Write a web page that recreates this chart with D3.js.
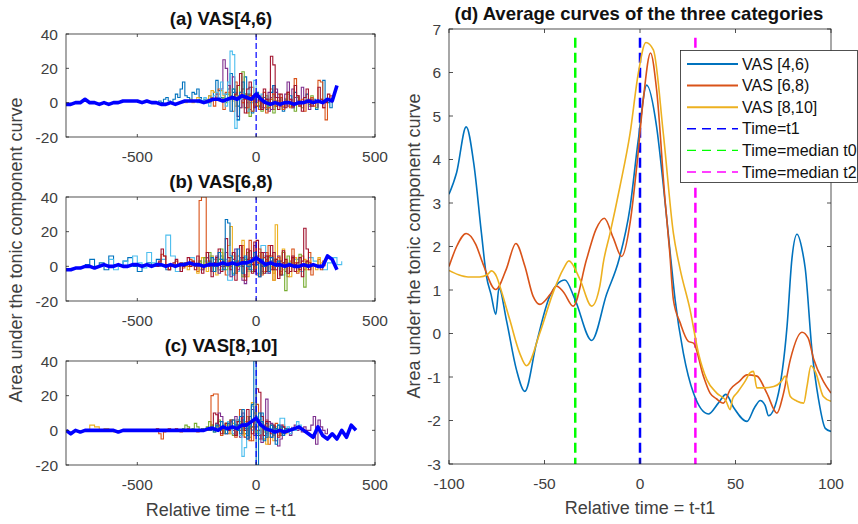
<!DOCTYPE html>
<html>
<head>
<meta charset="utf-8">
<script src="https://cdn.jsdelivr.net/npm/d3@7"></script>
<style>
  body { margin: 0; background: #fff; }
  svg { font-family: "Liberation Sans", Arial, sans-serif; }
</style>
</head>
<body>
<svg id="chart" width="858" height="524"></svg>
<script>
// MATLAB default colour order
const palette = ["#0072BD", "#D95319", "#EDB120", "#7E2F8E", "#77AC30", "#4DBEEE", "#A2142F"];

// ---- left panels: individual traces (start time, step, values) and mean curve ----
const titlesLeft = ["(a) VAS[4,6)", "(b) VAS[6,8)", "(c) VAS[8,10]"];
const xTicksLeft = [-500, 0, 500];
const yTicksLeft = [-20, 0, 20, 40];

const tracesA = [
  { c: 0, start: -420, step: 10, v: [0,1,0,2,3,1,0,2,5,3,8,12,4,3,2,6,5,8,3,1,2,0,4,2,6,13,7,3,2,5,8,17,6,3,-2,4,8,15,5,0,-5,2,6,3,1,0] },
  { c: 2, start: -300, step: 10, v: [0,1,2,0,1,3,2,0,1,2,4,7,6,3,5,7,4,2,6,3,1,-2,3,5,0,-3,2,4,1,0,-2,1] },
  { c: 1, start: -200, step: 10, v: [0,3,-2,5,8,2,-4,6,10,3,-5,12,4,-3,8,2,-6,5,9,1,-2,4,0,6,-3,2,8,-4,1,5,0,-2,3] },
  { c: 3, start: -180, step: 10, v: [2,5,3,8,25,20,10,4,15,6,-8,-3,2,5,0,-4,3,-2,1,4,-3,0,2,-5,3,10,6,1,0,-3,2,-2,1,8,3,0,-2] },
  { c: 4, start: -150, step: 10, v: [1,3,0,5,2,8,4,10,6,18,5,-3,-8,2,4,0,-2,3,1,-4,0,2] },
  { c: 5, start: -250, step: 10, v: [0,2,1,3,0,-2,2,4,6,3,12,5,-2,12,30,28,-15,-10,2,6,4,-5,3,0,13,2,-3,5,0,1,-2,0,4,2] },
  { c: 0, start: -120, step: 10, v: [3,-5,8,2,-10,6,12,-3,4,9,-6,2,5,-2,0,3,-4,1,6,10,-2,0,3,-5,2,0,4,-3,6,1,-2,0,3,5,-1,0,2,-4,1,0,13,2,0,-3,1] },
  { c: 4, start: 0, step: 10, v: [-2,3,-5,0,4,-3,2,-6,1,0,3,-4,2,5,-2,0,-5,3,1,-3,0,2,-2,4,0,-3,1,2,0] },
  { c: 3, start: 20, step: 10, v: [0,-3,2,6,-4,1,8,3,-2,0,5,12,2,-3,0,4,-2,9,3,0,-4,2,1,0,-3] },
  { c: 1, start: -60, step: 10, v: [0,2,-3,4,-5,1,3,-4,2,0,-6,-3,2,5,-2,0,3,-4,1,6,-3,0,14,4,-2,2,-5,1,0,3,-2,0,13,12,-3,-10,2,4,0] },
  { c: 6, start: -100, step: 10, v: [2,5,10,17,3,-6,8,12,4,-3,5,1,-4,8,2,0,27,22,3,-4,5,0,-3,6,2,-2,10,4,0,-5,3,8,2,-2,0,1,9,2,-3,0,5,1] }
];
const meanA = { start: -800, step: 20, v: [
  -1,-1,0,0,2,  0,0,-1,0,-1,  0,0,1,1,1,  1,0,1,0,0,  -1,-1,0,-1,0,  1,1,1,1,0,
  1,2,2,1,2,  3,2,4,3,2,  5,2,0,-1,0,  -1,0,0,-1,0,  0,1,0,1,0,  2,1,10] };

const tracesB = [
  { c: 0, start: -720, step: 20, v: [1,4,0,2,-2,6,1,0,3,5,0,-3,1,2,0,4,1,-2,0,3] },
  { c: 5, start: -620, step: 20, v: [4,-2,1,3,0,6,2,-1,8,2,0,4,18,6,-3,2,0,5,1,-2,3,6,0,-2,4,-8,2,0,5,-3,1,6,12,-4,3,0,-5,2,0,4,-3,1,5,3,0,-2,2,5,1,3] },
  { c: 1, start: -420, step: 10, v: [0,2,7,6,1,-2,0,1,3,0,2,-1,1,0,4,2,0,-3,38,40,40,5,2,-3,0,4,-2,6,1,-5,3,0,8,2,-3,5,12,4,-2,0,3,1,-4,2,0,5,8,2,-1,0,3] },
  { c: 5, start: -200, step: 10, v: [0,-3,4,1,-2,6,0,3,-5,2,8,1,-3,4,0,-6,2,5,-2,0,3,-4,1,6,0,-3,2,4,-2,0] },
  { c: 2, start: -300, step: 10, v: [0,-2,1,3,0,-4,2,5,1,-3,0,6,2,-5,4,8,3,0,12,23,6,-4,2,5,15,3,-6,0,4,-2,1,8,3,-3,0,6,2,-4,24,6,0,-2,3,1,0,5,2,-3,0] },
  { c: 3, start: -250, step: 10, v: [0,3,-2,1,5,0,-3,2,6,-4,0,3,8,2,-6,4,10,-2,5,-8,-10,3,0,5,12,-5,2,-3,8,0,-4,3,1,-2,6,0,2,-3,1,0] },
  { c: 1, start: -100, step: 10, v: [2,-4,6,12,3,-6,8,15,2,-3,5,10,-5,0,4,12,6,-8,2,5,-3,8,0,-6,3,10,2,-4,0,6,-2,3,8,-5,1,0,4,-2,3,0] },
  { c: 4, start: -260, step: 10, v: [0,1,3,-1,5,2,8,0,-3,2,4,10,3,-2,0,5,-4,2,0,3,-6,4,8,1,-3,0,6,2,-4,0,3,5,1,-2,4,0,-5,8,-14,6,2,0,5,-3,7,0,-12,2,0] },
  { c: 2, start: 0, step: 10, v: [3,-5,8,2,-3,6,0,-8,4,2,-4,10,3,0,-6,2,5,-3,1,0,4,-2,3,0,1,-2,5,2,0] },
  { c: 6, start: -420, step: 10, v: [0,3,10,6,1,-2,0,2,4,1,-3,0,2,5,0,3,-2,6,1,-4,0,8,3,-6,2,5,10,-3,0,16,5,-2,8,-8,3,12,0,-5,4,9,1,-3,15,4,0,-4,6,2,-2,8,3,0,-5,2,4,0,-3,5,1,0,-2,3,22,10,2,0] },
  { c: 6, start: -60, step: 10, v: [5,-8,10,3,-4,14,2,-6,8,0,-3,6,12,-2,4,-7,3,9,1,-4,0,6,-3,2,5,-6,0,3,-2,1] },
  { c: 0, start: -200, step: 10, v: [2,5,-3,0,8,4,-2,27,25,6,-5,3,10,2,-4,6,0,-2,3,8,1,-6,4,0,2,-3,5,1,0,3,-2] }
];
const meanB = { start: -800, step: 20, v: [
  -2,-2,-1,-1,0,  0,-1,0,1,0,  0,1,0,0,1,  1,0,1,0,1,  1,0,1,0,1,  1,2,1,1,0,
  1,1,1,2,1,  2,1,2,2,3,  5,3,1,2,1,  1,0,1,0,0,  1,0,1,0,0,  6,4,-2] };

const tracesC = [
  { c: 2, start: -720, step: 20, v: [0,3,2,0,1,0,-1,0] },
  { c: 4, start: -320, step: 10, v: [0,1,3,2,0,1,4,2,0,1,0,2,5,3,0,4,6,2,-1,3,0,5,2,-3,1,4,0,-2,3,1,0,2,-1,0,1,0,2,0] },
  { c: 4, start: -200, step: 10, v: [0,3,-1,2,5,0,-2,4,1,6,-3,2,0,5,-2,3,0,-4,2,1,-2,0,3,-1,0,2] },
  { c: 1, start: -430, step: 10, v: [0,1,-2,-5,-1,0,1,0,0,1,0,-1,0,0,1,0,0,0,-1,0,0,0,0,0,20,21,21,2,-3,0,4,-2,1,6,-4,3,0,8,-2,5,-6,2,10,0,-3,4,-5,2,0,3,-2,1,0,-3,2,0,1] },
  { c: 3, start: -180, step: 10, v: [0,4,10,8,3,-2,1,5,0,-3,6,2,8,-4,1,3,0,6,2,-5,3,1,-2,0,4,-3,0,-9,-5,2,0,1,-2,0,3,0,1,-1,2,0,0,3,8,-8,6,2,0,-2,1] },
  { c: 1, start: -100, step: 10, v: [2,-3,6,12,4,-4,8,2,-6,5,15,3,-5,2,6,-8,1,-3,4,0,-2,3,1,-1,0] },
  { c: 2, start: -160, step: 10, v: [0,2,-1,3,1,-2,4,0,6,2,-3,5,8,2,16,10,3,6,-2,-5,-8,-4,0,-6,2,-3,1,0,-2,0] },
  { c: 3, start: -120, step: 10, v: [0,5,-2,8,3,-4,10,2,-5,4,12,-3,6,0,-7,3,18,5,-4,2,-6,0,3,-2,1,0,-3,2] },
  { c: 5, start: -150, step: 10, v: [1,3,0,5,2,-2,4,6,-3,-15,-10,2,5,0,3,8,-2,4,0,-3,2,1,-1,0,3,7,7,0,2,-2,1,0,5,3,0,-1] },
  { c: 0, start: -80, step: 10, v: [3,-2,6,1,-5,8,14,2,-3,6,10,-6,4,0,-4,2,-8,3,0,-2,1,0] },
  { c: 6, start: -200, step: 10, v: [0,2,10,9,3,-2,1,4,0,6,2,-3,5,8,3,0,12,4,-2,6,24,22,8,-3,5,0,-2,3,1,-4,0,2,0] },
  { c: 0, start: -200, step: 10, v: [0,2,-1,3,0,5,2,-2,4,1,6,3,0,8,12,4,-3,2,15,40,-20,10,5,2,-4,0,3,-2,1,0,2,-3,1] }
];
const meanC = { start: -800, step: 20, v: [
  0,-2,0,-1,0,  0,0,0,0,0,  0,-1,0,0,0,  0,0,0,0,0,  0,0,0,0,0,  0,0,0,0,0,
  1,1,0,2,1,  2,1,3,3,5,  7,3,1,0,-1,  0,-1,0,1,2,  0,-2,-4,2,-3,  -5,-2,-5,0,-4,  3,0] };

// ---- panel (d): averaged curves ----
const seriesNames = ["VAS [4,6)", "VAS [6,8)", "VAS [8,10]"];
const avg46 = [[-100,3.2],[-96,3.7],[-91,4.75],[-87,3.9],[-83,2.3],[-80.4,1.32],[-78,0.9],[-75.5,0.44],[-73.8,1.05],
  [-70,0.32],[-64.7,-0.83],[-60.3,-1.33],[-54.2,-0.22],[-47.2,0.86],[-39.3,1.23],[-34,0.78],[-25.3,-0.16],
  [-17.5,0.9],[-11,1.7],[-5.2,2.9],[-0.9,4.45],[3.5,5.71],[8.7,4.75],[12,3.5],[15.7,1.9],[18.4,0.77],[22.7,-0.45],
  [28,-1.37],[35.8,-1.85],[41,-1.6],[45,-1.4],[49,-1.7],[56,-2.02],[60,-1.7],[63,-1.54],[65.5,-1.65],[67.3,-1.89],
  [71.7,-1.52],[77,0.17],[79.5,1.7],[82.2,2.28],[85,1.9],[86.5,1.5],[90,-0.37],[93.5,-1.52],[97,-2.18],[100,-2.25]];
const avg68 = [[-100,1.54],[-96,2.0],[-91,2.3],[-86,2.05],[-82.2,1.6],[-75.5,1.01],[-70,1.48],[-65,2.07],[-60.3,1.55],
  [-56,0.86],[-52.4,0.67],[-47,0.9],[-43.7,1.09],[-40,0.95],[-35,0.63],[-28,1.7],[-23,2.4],[-18.7,2.65],[-14,2.2],
  [-9.6,1.77],[-5,2.6],[-1.7,3.84],[1.7,5.37],[5.5,6.45],[8.7,5.6],[13.1,3.07],[15.5,1.9],[17.5,0.77],[21,0.25],
  [25.3,-0.18],[28,-0.22],[33.2,-0.98],[36.7,-1.37],[40,-1.5],[43.7,-1.6],[47.2,-1.29],[52,-1.1],[56,-0.95],
  [61.2,-0.98],[66.4,-1.37],[71.7,-1.83],[75,-1.4],[78.7,-0.6],[84.8,0.03],[88,-0.1],[91,-0.6],[96,-1.1],[100,-1.37]];
const avg810 = [[-100,1.45],[-95,1.35],[-90,1.3],[-84,1.3],[-80,1.35],[-77.8,1.44],[-75,1.3],[-73.4,1.09],[-68.2,0.32],
  [-63,-0.45],[-59.4,-0.74],[-52.4,0.02],[-45.5,0.94],[-40.2,1.48],[-37.2,1.67],[-31.5,1.25],[-25.3,0.63],[-21,1.1],
  [-19.2,1.63],[-15.7,2.3],[-10.5,3.38],[-5.2,4.6],[-0.9,5.98],[3.1,6.69],[7,6.52],[12.2,4.6],[17.5,2.3],[21,1.48],
  [26.2,0.55],[30.6,-0.45],[35,-1.06],[40.2,-1.37],[45,-1.55],[47.2,-1.75],[48.5,-1.5],[50.7,-1.37],[55,-1.1],
  [57.7,-0.9],[59.4,-0.87],[61.2,-1.25],[65,-1.25],[70,-1.22],[74,-1.1],[76,-0.98],[78.7,-1.45],[82,-1.55],
  [85.7,-1.6],[87.5,-1.2],[89.5,-0.74],[92,-0.9],[96,-1.45],[100,-1.56]];
const markerNames = ["Time=t1", "Time=median t0", "Time=median t2"];
const markerTimes = [0, -33.9, 29];
const markerColors = ["#0000ff", "#00ff00", "#ff00ff"];
const xTicksD = [-100, -50, 0, 50, 100];
const yTicksD = [-3, -2, -1, 0, 1, 2, 3, 4, 5, 6, 7];

const svg = d3.select("#chart");
const axisColor = "#262626";
const textColor = "#404040";

function drawBox(g, x, y, xTicks, yTicks, tickLen) {
  const [x0, x1] = x.range();
  const [y0, y1] = y.range();
  g.append("rect")
    .attr("x", x0).attr("y", y1).attr("width", x1 - x0).attr("height", y0 - y1)
    .attr("fill", "none").attr("stroke", axisColor).attr("stroke-width", 0.8);
  const ticks = g.append("g").attr("stroke", axisColor).attr("stroke-width", 0.8);
  xTicks.forEach(t => {
    ticks.append("line").attr("x1", x(t)).attr("x2", x(t)).attr("y1", y0).attr("y2", y0 - tickLen);
    ticks.append("line").attr("x1", x(t)).attr("x2", x(t)).attr("y1", y1).attr("y2", y1 + tickLen);
  });
  yTicks.forEach(t => {
    ticks.append("line").attr("y1", y(t)).attr("y2", y(t)).attr("x1", x0).attr("x2", x0 + tickLen);
    ticks.append("line").attr("y1", y(t)).attr("y2", y(t)).attr("x1", x1).attr("x2", x1 - tickLen);
  });
  g.append("g").selectAll("text").data(xTicks).join("text")
    .attr("x", d => x(d)).attr("y", y0 + 25)
    .attr("text-anchor", "middle").attr("font-size", 15.5).attr("fill", textColor)
    .text(d => d);
  g.append("g").selectAll("text").data(yTicks).join("text")
    .attr("x", x0 - 8).attr("y", d => y(d) + 5.5)
    .attr("text-anchor", "end").attr("font-size", 15.5).attr("fill", textColor)
    .text(d => d);
}

// left panels
const leftPanels = [
  { title: titlesLeft[0], traces: tracesA, mean: meanA, top: 34, bottom: 137 },
  { title: titlesLeft[1], traces: tracesB, mean: meanB, top: 197, bottom: 301 },
  { title: titlesLeft[2], traces: tracesC, mean: meanC, top: 361, bottom: 465 }
];

leftPanels.forEach((p, i) => {
  const x = d3.scaleLinear().domain([-800, 500]).range([66, 375]);
  const y = d3.scaleLinear().domain([-20, 40]).range([p.bottom, p.top]);
  const g = svg.append("g");
  const clipId = "clipL" + i;
  svg.append("clipPath").attr("id", clipId).append("rect")
    .attr("x", 66).attr("y", p.top).attr("width", 309).attr("height", p.bottom - p.top);

  const plot = g.append("g").attr("clip-path", `url(#${clipId})`);
  const step = d3.line().x(d => x(d[0])).y(d => y(d[1])).curve(d3.curveStepAfter);
  const toPts = tr => tr.v.map((v, k) => [tr.start + k * tr.step, v]);

  p.traces.forEach(tr => {
    plot.append("path").datum(toPts(tr))
      .attr("d", step).attr("fill", "none")
      .attr("stroke", palette[tr.c]).attr("stroke-width", 1.1);
  });
  plot.append("path").datum(toPts(p.mean))
    .attr("d", d3.line().x(d => x(d[0])).y(d => y(d[1])))
    .attr("fill", "none").attr("stroke", "#0000ff").attr("stroke-width", 3.6)
    .attr("stroke-linejoin", "round");
  plot.append("line")
    .attr("x1", x(0)).attr("x2", x(0)).attr("y1", p.top).attr("y2", p.bottom)
    .attr("stroke", "#0000ff").attr("stroke-width", 1.2).attr("stroke-dasharray", "6,3");

  drawBox(g, x, y, xTicksLeft, yTicksLeft, 3);

  g.append("text").attr("x", 221).attr("y", p.top - 9)
    .attr("text-anchor", "middle").attr("font-size", 18.5).attr("font-weight", "bold")
    .attr("fill", "#111").text(p.title);
});

svg.append("text")
  .attr("transform", "translate(22,250) rotate(-90)")
  .attr("text-anchor", "middle").attr("font-size", 18).attr("fill", textColor)
  .text("Area under the tonic component curve");
svg.append("text").attr("x", 221).attr("y", 516)
  .attr("text-anchor", "middle").attr("font-size", 18).attr("fill", textColor)
  .text("Relative time = t-t1");

// panel (d)
const xd = d3.scaleLinear().domain([-100, 100]).range([449, 831]);
const yd = d3.scaleLinear().domain([-3, 7]).range([464, 29]);
const gd = svg.append("g");
svg.append("clipPath").attr("id", "clipD").append("rect")
  .attr("x", 449).attr("y", 29).attr("width", 382).attr("height", 435);
const plotD = gd.append("g").attr("clip-path", "url(#clipD)");

markerTimes.forEach((t, i) => {
  plotD.append("line")
    .attr("x1", xd(t)).attr("x2", xd(t)).attr("y1", yd(6.8)).attr("y2", yd(-3))
    .attr("stroke", markerColors[i]).attr("stroke-width", 2.5).attr("stroke-dasharray", "10,5");
});

const smooth = d3.line().x(d => xd(d[0])).y(d => yd(d[1])).curve(d3.curveMonotoneX);
[avg46, avg68, avg810].forEach((s, i) => {
  plotD.append("path").datum(s).attr("d", smooth)
    .attr("fill", "none").attr("stroke", palette[i]).attr("stroke-width", 1.6);
});

drawBox(gd, xd, yd, xTicksD, yTicksD, 4);

gd.append("text").attr("x", 639).attr("y", 19.5)
  .attr("text-anchor", "middle").attr("font-size", 18.5).attr("font-weight", "bold")
  .attr("fill", "#111").text("(d) Average curves of the three categories");
gd.append("text")
  .attr("transform", "translate(420,246) rotate(-90)")
  .attr("text-anchor", "middle").attr("font-size", 18).attr("fill", textColor)
  .text("Area under the tonic component curve");
gd.append("text").attr("x", 640).attr("y", 514)
  .attr("text-anchor", "middle").attr("font-size", 18).attr("fill", textColor)
  .text("Relative time = t-t1");

// legend
const legend = gd.append("g");
legend.append("rect").attr("x", 680.5).attr("y", 50.5).attr("width", 177).attr("height", 132)
  .attr("fill", "#fff").attr("stroke", axisColor).attr("stroke-width", 0.8);
const legendItems = seriesNames.map((n, i) => ({ name: n, color: palette[i], dash: null, w: 2 }))
  .concat(markerNames.map((n, i) => ({ name: n, color: markerColors[i], dash: "9,6", w: 1.4 })));
legendItems.forEach((it, i) => {
  const cy = 64 + i * 21.6;
  legend.append("line").attr("x1", 687).attr("x2", 738).attr("y1", cy).attr("y2", cy)
    .attr("stroke", it.color).attr("stroke-width", it.w)
    .attr("stroke-dasharray", it.dash);
  legend.append("text").attr("x", 742).attr("y", cy + 5.5)
    .attr("font-size", 16).attr("fill", "#111").text(it.name);
});
</script>
</body>
</html>
